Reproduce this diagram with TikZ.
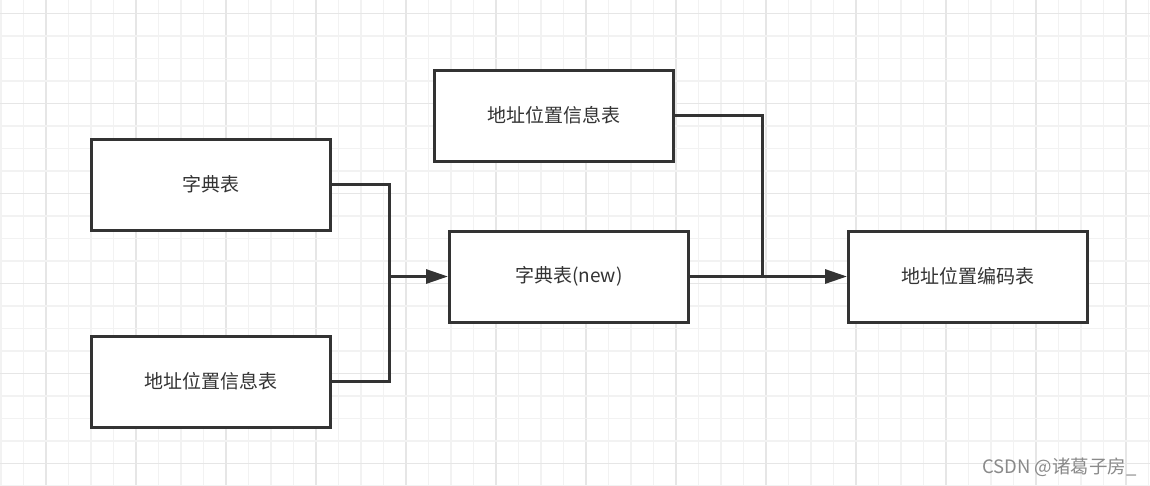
\documentclass[tikz,border=0pt]{standalone}
\usepackage{fontspec}
\newfontfamily\cjk{Noto Sans CJK SC}
\usetikzlibrary{arrows.meta}
\definecolor{ink}{HTML}{333333}
\definecolor{gridminor}{HTML}{F2F2F2}
\definecolor{gridmajor}{HTML}{E6E6E6}
\definecolor{mark}{HTML}{8A8A8A}
\tikzset{
    tbl/.style={draw=ink, line width=3pt, fill=white, minimum width=239pt,
        minimum height=91pt, inner sep=0pt, text=ink, font=\cjk\fontsize{19}{22}\selectfont},
    link/.style={draw=ink, line width=3pt},
    arr/.style={link, -{Triangle[length=22pt,width=14pt]}},
}

\begin{document}
\begin{tikzpicture}[x=1pt, y=-1pt]
\useasboundingbox (0,0) rectangle (1150,485);
\fill[white] (0,0) rectangle (1150,485);
% grid
\foreach \i in {0,...,51} {
    \pgfmathtruncatemacro{\ismajor}{mod(\i,4)==2}
    \ifnum\ismajor=1
        \draw[gridmajor, line width=1.5pt] (1+22.5*\i,0) -- (1+22.5*\i,485);
    \else
        \draw[gridminor, line width=1.5pt] (1+22.5*\i,0) -- (1+22.5*\i,485);
    \fi
}
\foreach \j in {0,...,21} {
    \pgfmathtruncatemacro{\ismajor}{mod(\j,4)==0}
    \ifnum\ismajor=1
        \draw[gridmajor, line width=1.5pt] (0,13.3+22.5*\j) -- (1150,13.3+22.5*\j);
    \else
        \draw[gridminor, line width=1.5pt] (0,13.3+22.5*\j) -- (1150,13.3+22.5*\j);
    \fi
}

% tables
\node[tbl] (dict) at (210.5,184.5) {字典表};
\node[tbl] (addrL) at (210.5,381.5) {地址位置信息表};
\node[tbl] (addrT) at (554,115.5) {地址位置信息表};
\node[tbl] (dictnew) at (569,276.5) {字典表(new)};
\node[tbl] (code) at (968,276.5) {地址位置编码表};

\coordinate (j1) at (389,276.5);
\coordinate (j2) at (762,276.5);

% links
\draw[link] (dict.east) -| (j1);
\draw[link] (addrL.east) -| (j1);
\draw[arr] (j1) -- (dictnew.west);
\draw[link] (addrT.east) -| (j2);
\draw[arr] (dictnew.east) -- (code.west);

\node[text=mark, font=\cjk\fontsize{18.5}{21}\selectfont, anchor=east, inner sep=0pt] (wm) at (1137,467) {CSDN @诸葛子房\_};
\end{tikzpicture}
\end{document}
